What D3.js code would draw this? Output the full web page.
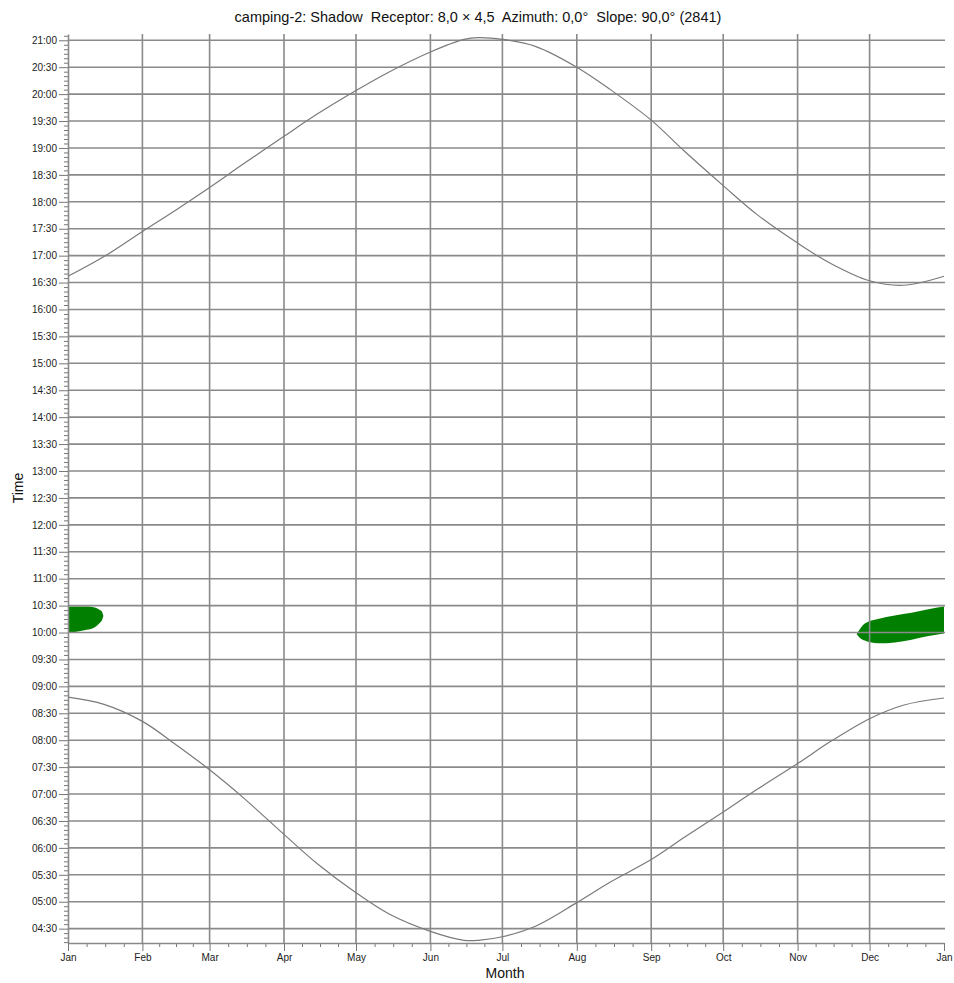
<!DOCTYPE html>
<html>
<head>
<meta charset="utf-8">
<script src="https://cdn.jsdelivr.net/npm/d3@7"></script>
<style>
	body { margin: 0; background: #fff; }
	text { font-family: "Liberation Sans", Arial, sans-serif; }
</style>
</head>
<body>
<div id="chart"></div>
<script>
// month labels and the day of year each month starts on
const months = ["Jan", "Feb", "Mar", "Apr", "May", "Jun", "Jul", "Aug", "Sep", "Oct", "Nov", "Dec", "Jan"];
const monthStarts = [0, 31, 59, 90, 120, 151, 181, 212, 243, 273, 304, 334, 365];

const timeTicks = [
	"04:30", "05:00", "05:30", "06:00", "06:30", "07:00", "07:30", "08:00", "08:30",
	"09:00", "09:30", "10:00", "10:30", "11:00", "11:30", "12:00", "12:30", "13:00",
	"13:30", "14:00", "14:30", "15:00", "15:30", "16:00", "16:30", "17:00", "17:30",
	"18:00", "18:30", "19:00", "19:30", "20:00", "20:30", "21:00"
];

// sun curves
const curveDays = [0, 15, 31, 45, 59, 73, 90, 104, 120, 134, 151, 165, 171, 181, 195, 212, 226, 243, 257, 273, 287, 304, 318, 334, 348, 365];
const sunset = [
	"16:37", "16:59", "17:27", "17:51", "18:16", "18:42", "19:13", "19:38", "20:04", "20:25", "20:47", "21:01", "21:03",
	"21:01", "20:53", "20:30", "20:05", "19:31", "18:56", "18:18", "17:46", "17:14", "16:51", "16:32", "16:27", "16:37"
];
const sunrise = [
	"08:48", "08:40", "08:21", "07:55", "07:27", "06:56", "06:15", "05:42", "05:10", "04:46", "04:27", "04:17", "04:17",
	"04:21", "04:33", "04:59", "05:22", "05:47", "06:12", "06:40", "07:05", "07:34", "07:59", "08:24", "08:39", "08:47"
];

// shadow periods (green)
const shadowJanDays = [0, 3.6, 7.8, 11.2, 13.3, 14.2, 14.7];
const shadowJanStart = ["10:00", "10:01", "10:03", "10:06", "10:11", "10:14", "10:18"];
const shadowJanEnd = ["10:29", "10:29", "10:29", "10:28", "10:25", "10:23", "10:19"];

const shadowDecDays = [328.6, 330, 332, 337.5, 344.5, 351.5, 358.5, 365];
const shadowDecStart = ["09:58", "09:54", "09:51", "09:48", "09:49", "09:52", "09:56", "09:59"];
const shadowDecEnd = ["09:58", "10:04", "10:10", "10:15", "10:19", "10:22", "10:26", "10:29"];

const title = "camping-2: Shadow  Receptor: 8,0 \u00d7 4,5  Azimuth: 0,0\u00b0  Slope: 90,0\u00b0 (2841)";

const margin = { top: 34, right: 10, bottom: 40, left: 68 },
	width = 876,
	height = 909;

const gridColour = "#8a8a8a";

function mins(s) {
	const p = s.split(":");
	return +p[0] * 60 + +p[1];
}

const root = d3
	.select("#chart")
	.append("svg")
	.attr("width", 954)
	.attr("height", 983);

const svg = root
	.append("g")
	.attr("transform", `translate(${margin.left},${margin.top})`);

const x = d3.scaleLinear().domain([0, 365]).range([0, width]);
const y = d3.scaleLinear().domain([254, 1267]).range([height, 0]);

// shadow areas, under the grid
function shadow(days, start, end) {
	const data = days.map((d, i) => ({ day: d, s: mins(start[i]), e: mins(end[i]) }));
	svg
		.append("path")
		.datum(data)
		.attr("fill", "#007f00")
		.attr(
			"d",
			d3
				.area()
				.x((d) => x(d.day))
				.y0((d) => y(d.s))
				.y1((d) => y(d.e))
				.curve(d3.curveMonotoneX)
		);
}
shadow(shadowJanDays, shadowJanStart, shadowJanEnd);
shadow(shadowDecDays, shadowDecStart, shadowDecEnd);

// grid
svg
	.append("g")
	.selectAll("line")
	.data(timeTicks)
	.join("line")
	.attr("x1", 0)
	.attr("x2", width + 1)
	.attr("y1", (d) => y(mins(d)))
	.attr("y2", (d) => y(mins(d)))
	.attr("stroke", gridColour)
	.attr("stroke-width", 1.6);

svg
	.append("g")
	.selectAll("line")
	.data(monthStarts.slice(1, 12))
	.join("line")
	.attr("x1", (d) => x(d))
	.attr("x2", (d) => x(d))
	.attr("y1", 0)
	.attr("y2", height)
	.attr("stroke", gridColour)
	.attr("stroke-width", 1.6);

// sunrise / sunset
const line = d3
	.line()
	.x((d) => x(d[0]))
	.y((d) => y(mins(d[1])))
	.curve(d3.curveCatmullRom);

[sunset, sunrise].forEach((series) => {
	svg
		.append("path")
		.datum(curveDays.map((d, i) => [d, series[i]]))
		.attr("fill", "none")
		.attr("stroke", "#7a7a7a")
		.attr("stroke-width", 1.2)
		.attr("d", line);
});

// y axis
const minorTimes = [];
for (let m = 255; m <= 1265; m += 5) {
	if (m % 30 !== 0) minorTimes.push(m);
}

svg
	.append("g")
	.call(d3.axisLeft(y).tickValues(minorTimes).tickSize(4).tickFormat(""))
	.call((g) => g.select(".domain").remove())
	.selectAll("line")
	.attr("stroke", "#777");

const yAxis = svg
	.append("g")
	.call(
		d3
			.axisLeft(y)
			.tickValues(timeTicks.map(mins))
			.tickFormat((d, i) => timeTicks[i])
			.tickSize(9)
			.tickSizeOuter(0)
	);
yAxis.select(".domain").attr("stroke", gridColour).attr("stroke-width", 1.6);
yAxis.selectAll(".tick line").attr("stroke", "#777");
yAxis.selectAll("text").attr("font-size", 10).attr("fill", "#222").attr("x", -11);

// x axis
const minorDays = [];
for (let i = 0; i < 12; i++) {
	const len = monthStarts[i + 1] - monthStarts[i];
	for (let k = 1; k < 4; k++) minorDays.push(monthStarts[i] + (k * len) / 4);
}

svg
	.append("g")
	.attr("transform", `translate(0,${height})`)
	.call(d3.axisBottom(x).tickValues(minorDays).tickSize(4).tickFormat(""))
	.call((g) => g.select(".domain").remove())
	.selectAll("line")
	.attr("stroke", "#777");

const xAxis = svg
	.append("g")
	.attr("transform", `translate(0,${height})`)
	.call(
		d3
			.axisBottom(x)
			.tickValues(monthStarts)
			.tickFormat((d, i) => months[i])
			.tickSize(8)
			.tickSizeOuter(0)
	);
xAxis.select(".domain").attr("stroke", gridColour).attr("stroke-width", 1.6);
xAxis.selectAll(".tick line").attr("stroke", "#777");
xAxis.selectAll("text").attr("font-size", 10).attr("fill", "#222").attr("y", 11);

// labels
root
	.append("text")
	.attr("x", 478)
	.attr("y", 22)
	.attr("text-anchor", "middle")
	.attr("font-size", 14.5)
	.attr("fill", "#111")
	.style("white-space", "pre")
	.text(title);

root
	.append("text")
	.attr("x", 505)
	.attr("y", 978)
	.attr("text-anchor", "middle")
	.attr("font-size", 14)
	.attr("fill", "#111")
	.text("Month");

root
	.append("text")
	.attr("transform", "translate(23,488)rotate(-90)")
	.attr("text-anchor", "middle")
	.attr("font-size", 14)
	.attr("fill", "#111")
	.text("Time");
</script>
</body>
</html>
